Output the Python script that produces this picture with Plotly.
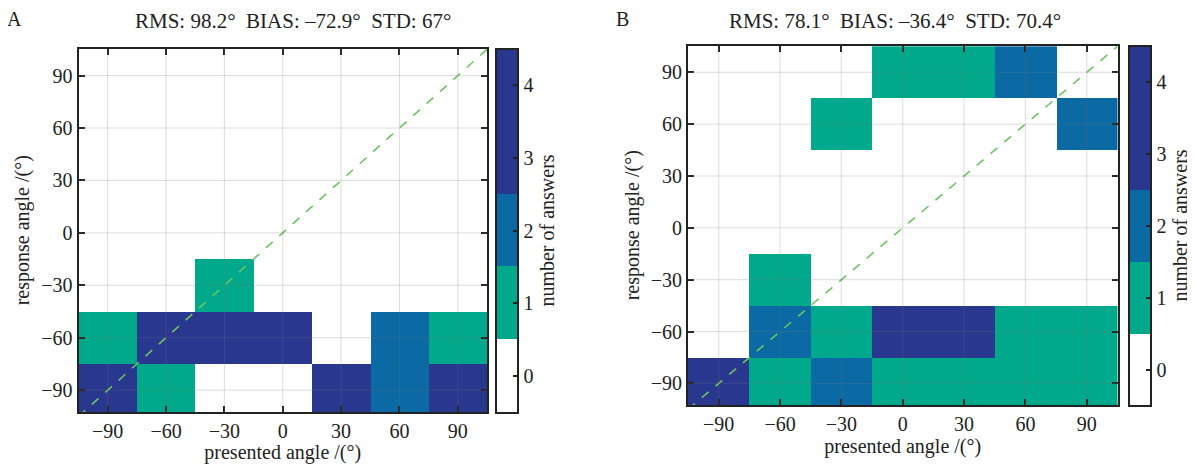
import plotly.graph_objects as go

# ---------------- data ----------------
angles = [-90, -60, -30, 0, 30, 60, 90]          # bin centres (presented & response)
tick_vals = [-90, -60, -30, 0, 30, 60, 90]
cbar_ticks = [0, 1, 2, 3, 4]

# counts: rows = response angle (-90 .. 90), columns = presented angle (-90 .. 90)
counts_A = [
    [3, 1, 0, 0, 4, 2, 3],   # response -90
    [1, 3, 3, 4, 0, 2, 1],   # response -60
    [0, 0, 1, 0, 0, 0, 0],   # response -30
    [0, 0, 0, 0, 0, 0, 0],   # response 0
    [0, 0, 0, 0, 0, 0, 0],   # response 30
    [0, 0, 0, 0, 0, 0, 0],   # response 60
    [0, 0, 0, 0, 0, 0, 0],   # response 90
]
counts_B = [
    [4, 1, 2, 1, 1, 1, 1],   # response -90
    [0, 2, 1, 3, 3, 1, 1],   # response -60
    [0, 1, 0, 0, 0, 0, 0],   # response -30
    [0, 0, 0, 0, 0, 0, 0],   # response 0
    [0, 0, 0, 0, 0, 0, 0],   # response 30
    [0, 0, 1, 0, 0, 0, 2],   # response 60
    [0, 0, 0, 1, 1, 2, 0],   # response 90
]
title_A = "RMS: 98.2°  BIAS: –72.9°  STD: 67°"
title_B = "RMS: 78.1°  BIAS: –36.4°  STD: 70.4°"

# ---------------- style ----------------
OFF = 8                      # default page body margin
W, H = 1195 - OFF, 464 - OFF
FONT = "Liberation Serif"
INK = "#222222"
WHITE = "#ffffff"
GREEN = "#00a98b"
BLUE = "#0b69a3"
NAVY = "#29378f"
colorscale = [
    [0.0, WHITE], [0.2, WHITE],
    [0.2, GREEN], [0.4, GREEN],
    [0.4, BLUE], [0.6, BLUE],
    [0.6, NAVY], [1.0, NAVY],
]

def px_x(p):
    return (p - OFF) / W

def px_y(p):
    return 1 - (p - OFF) / H

panels = [
    dict(z=counts_A, title=title_A, letter="A",
         xdom=[px_x(78.5), px_x(487)], ydom=[px_y(412), px_y(48.5)],
         cb_x=px_x(496), letter_x=px_x(14), title_x=px_x(293)),
    dict(z=counts_B, title=title_B, letter="B",
         xdom=[px_x(688), px_x(1117.5)], ydom=[px_y(405), px_y(45.5)],
         cb_x=px_x(1129), letter_x=px_x(623), title_x=px_x(895)),
]

fig = go.Figure()
annotations = []
shapes = []
RNG = [-105, 105]
YRNG = [-102.5, 105.5]

for i, p in enumerate(panels):
    n = "" if i == 0 else str(i + 1)
    xa, ya = "x" + n, "y" + n
    zmask = [[(v if v > 0 else None) for v in row] for row in p["z"]]
    fig.add_trace(go.Heatmap(
        x=angles, y=angles, z=zmask, xaxis=xa, yaxis=ya,
        zmin=-0.5, zmax=4.5, colorscale=colorscale, hoverongaps=False,
        colorbar=dict(
            x=p["cb_x"], xanchor="left", y=p["ydom"][1], yanchor="top",
            len=p["ydom"][1] - p["ydom"][0], lenmode="fraction",
            thickness=22, xpad=0, ypad=0,
            outlinewidth=2, outlinecolor=INK,
            tickmode="array", tickvals=cbar_ticks, ticks="inside", ticklen=6,
            tickwidth=1.5, tickcolor=INK,
            tickfont=dict(family=FONT, size=20, color=INK),
            title=dict(text="number of answers", side="right",
                       font=dict(family=FONT, size=20, color=INK)),
        ),
    ))
    # diagonal y = x
    fig.add_trace(go.Scatter(
        x=RNG, y=RNG, xaxis=xa, yaxis=ya, mode="lines",
        line=dict(color="#6cc564", width=1.6, dash="dash"),
        hoverinfo="skip", showlegend=False,
    ))
    axcommon = dict(
        range=RNG, tickmode="array", tickvals=tick_vals,
        ticks="inside", ticklen=6, tickwidth=2, tickcolor=INK,
        showline=True, linewidth=2, linecolor=INK, mirror="ticks",
        showgrid=False, zeroline=False,
        tickfont=dict(family=FONT, size=20, color=INK),
        automargin=False,
    )
    fig.layout["xaxis" + n] = dict(axcommon, domain=p["xdom"], anchor=ya,
                                   title=dict(text="presented angle /(°)", standoff=2,
                                              font=dict(family=FONT, size=20, color=INK)))
    fig.layout["yaxis" + n] = dict(axcommon, range=YRNG, domain=p["ydom"], anchor=xa,
                                   title=dict(text="response angle /(°)", standoff=6,
                                              font=dict(family=FONT, size=20, color=INK)))
    # faint grid drawn above the cells
    for v in tick_vals:
        shapes.append(dict(type="line", xref=xa, yref=ya + " domain", x0=v, x1=v, y0=0, y1=1,
                           line=dict(color="rgba(120,120,120,0.25)", width=1), layer="above"))
        shapes.append(dict(type="line", yref=ya, xref=xa + " domain", y0=v, y1=v, x0=0, x1=1,
                           line=dict(color="rgba(120,120,120,0.25)", width=1), layer="above"))
    annotations.append(dict(text=p["title"], x=p["title_x"], y=px_y(21),
                            xref="paper", yref="paper", showarrow=False,
                            xanchor="center", yanchor="middle",
                            font=dict(family=FONT, size=21, color=INK)))
    annotations.append(dict(text=p["letter"], x=p["letter_x"], y=px_y(19),
                            xref="paper", yref="paper", showarrow=False,
                            xanchor="center", yanchor="middle",
                            font=dict(family=FONT, size=20, color=INK)))

fig.update_layout(
    width=W, height=H,
    margin=dict(l=0, r=0, t=0, b=0),
    paper_bgcolor="white", plot_bgcolor="white",
    showlegend=False,
    annotations=annotations, shapes=shapes,
)

fig.write_html("out.html")
